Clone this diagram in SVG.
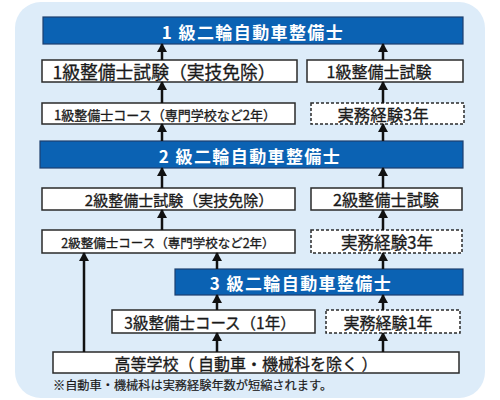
<svg xmlns="http://www.w3.org/2000/svg" width="500" height="400" viewBox="0 0 500 400">
<style>
.bg{fill:#ddecf9}
.blue{fill:#0b62b3;stroke:#1d3f6e;stroke-width:1.2}
.wb{fill:#fff;stroke:#2a2a2a;stroke-width:1.5}
.db{fill:#fff;stroke:#2a2a2a;stroke-width:1.5;stroke-dasharray:3 2}
text{font-family:"Noto Sans CJK JP","Noto Sans",sans-serif;text-anchor:middle;dominant-baseline:central;fill:#1a1a1a;stroke:#1a1a1a;stroke-width:0.3px}
.t{fill:#fff;stroke:none;font-weight:bold;font-size:17px;letter-spacing:1.4px}
.s{font-size:13px}
.n{font-size:12.2px;text-anchor:start;stroke-width:0.2px}
.c{stroke:#111;stroke-width:2.5;fill:none;marker-end:url(#ah)}
</style>
<defs>
<marker id="ah" markerUnits="userSpaceOnUse" markerWidth="9" markerHeight="10" refX="8" refY="5" orient="auto" viewBox="0 0 9 10">
<path d="M0,0 L9,5 L0,10 Z" fill="#111"/>
</marker>
</defs>
<rect class="bg" x="15" y="2" width="470" height="396" rx="26"/>
<g id="n1"><rect class="blue" x="43" y="17" width="420" height="27"/><text class="t" x="253" y="31">1 級二輪自動車整備士</text></g>
<g id="n2"><rect class="wb" x="42" y="60" width="255" height="22"/><text x="164" y="71" style="font-size:17.8px">1級整備士試験（実技免除）</text></g>
<g id="n3"><rect class="wb" x="307" y="60" width="156" height="22"/><text x="379" y="71" style="font-size:16px">1級整備士試験</text></g>
<g id="n4"><rect class="wb" x="42" y="103" width="253" height="21"/><text class="s" x="165" y="114">1級整備士コース（専門学校など2年）</text></g>
<g id="n5"><rect class="db" x="311" y="103" width="153" height="21"/><text x="383" y="114" style="font-size:16.4px">実務経験3年</text></g>
<g id="n6"><rect class="blue" x="40" y="141" width="423" height="27"/><text class="t" x="250" y="155">2 級二輪自動車整備士</text></g>
<g id="n7"><rect class="wb" x="42" y="188" width="253" height="22"/><text x="179" y="199" style="font-size:15px">2級整備士試験（実技免除）</text></g>
<g id="n8"><rect class="wb" x="311" y="188" width="151" height="22"/><text x="386" y="199" style="font-size:16.2px">2級整備士試験</text></g>
<g id="n9"><rect class="wb" x="42" y="230" width="253" height="23"/><text x="168" y="242" style="font-size:12.5px">2級整備士コース（専門学校など2年）</text></g>
<g id="n10"><rect class="db" x="311" y="230" width="151" height="23"/><text x="387" y="242" style="font-size:16.6px">実務経験3年</text></g>
<g id="n11"><rect class="blue" x="175" y="269" width="288" height="26"/><text class="t" x="301" y="282">3 級二輪自動車整備士</text></g>
<g id="n12"><rect class="wb" x="112" y="310" width="203" height="23"/><text x="210" y="322" style="font-size:15.5px">3級整備士コース（1年）</text></g>
<g id="n13"><rect class="db" x="326" y="310" width="134" height="23"/><text x="388" y="322" style="font-size:16px">実務経験1年</text></g>
<g id="n14"><rect class="wb" x="53" y="352" width="406" height="21"/><text x="246" y="363" style="font-size:16px">高等学校（ 自動車・機械科を除く ）</text></g>
<text class="n" x="53" y="385">※自動車・機械科は実務経験年数が短縮されます。</text>
<g id="connectors">
<path class="c" d="M162,60 V44"/>
<path class="c" d="M383,60 V44"/>
<path class="c" d="M162,103 V82"/>
<path class="c" d="M383,103 V82"/>
<path class="c" d="M162,141 V124"/>
<path class="c" d="M383,141 V124"/>
<path class="c" d="M162,188 V168"/>
<path class="c" d="M383,188 V168"/>
<path class="c" d="M162,230 V210"/>
<path class="c" d="M383,230 V210"/>
<path class="c" d="M84,352 V253"/>
<path class="c" d="M217,269 V253"/>
<path class="c" d="M383,269 V253"/>
<path class="c" d="M217,310 V295"/>
<path class="c" d="M383,310 V295"/>
<path class="c" d="M217,352 V333"/>
<path class="c" d="M383,352 V333"/>
</g>
</svg>
